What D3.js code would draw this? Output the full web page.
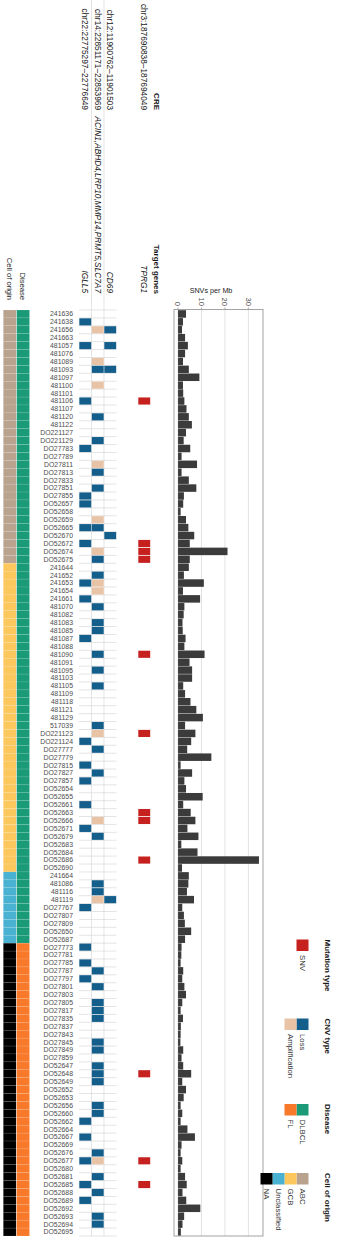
<!DOCTYPE html>
<html><head><meta charset="utf-8">
<script src="https://cdn.jsdelivr.net/npm/d3@7"></script>
<style>body{margin:0;background:#fff}svg{display:block;font-family:"Liberation Sans",Arial,sans-serif}</style>
</head><body><svg id="c" width="340" height="1258"></svg>
<script>
const samples = [
"241636","241638","241656","241663","481057","481076","481089","481093","481097","481100",
"481101","481106","481107","481120","481122","DO221127","DO221129","DO27783","DO27789","DO27811",
"DO27813","DO27833","DO27851","DO27855","DO52657","DO52658","DO52659","DO52665","DO52670","DO52672",
"DO52674","DO52675","241644","241652","241653","241654","241661","481070","481082","481083",
"481085","481087","481088","481090","481091","481095","481103","481105","481109","481118",
"481121","481129","517039","DO221123","DO221124","DO27777","DO27779","DO27815","DO27827","DO27857",
"DO52654","DO52655","DO52661","DO52663","DO52666","DO52671","DO52679","DO52683","DO52684","DO52686",
"DO52690","241664","481086","481116","481119","DO27767","DO27807","DO27809","DO52650","DO52687",
"DO27773","DO27781","DO27785","DO27787","DO27797","DO27801","DO27803","DO27805","DO27817","DO27835",
"DO27837","DO27843","DO27845","DO27849","DO27859","DO52647","DO52648","DO52649","DO52652","DO52653",
"DO52656","DO52660","DO52662","DO52664","DO52667","DO52669","DO52676","DO52677","DO52680","DO52681",
"DO52685","DO52688","DO52689","DO52692","DO52693","DO52694","DO52695"];

const cellOfOrigin = [
"ABC","ABC","ABC","ABC","ABC","ABC","ABC","ABC","ABC","ABC",
"ABC","ABC","ABC","ABC","ABC","ABC","ABC","ABC","ABC","ABC",
"ABC","ABC","ABC","ABC","ABC","ABC","ABC","ABC","ABC","ABC",
"ABC","ABC","GCB","GCB","GCB","GCB","GCB","GCB","GCB","GCB",
"GCB","GCB","GCB","GCB","GCB","GCB","GCB","GCB","GCB","GCB",
"GCB","GCB","GCB","GCB","GCB","GCB","GCB","GCB","GCB","GCB",
"GCB","GCB","GCB","GCB","GCB","GCB","GCB","GCB","GCB","GCB",
"GCB","Unclassified","Unclassified","Unclassified","Unclassified","Unclassified","Unclassified","Unclassified","Unclassified","Unclassified",
"NA","NA","NA","NA","NA","NA","NA","NA","NA","NA",
"NA","NA","NA","NA","NA","NA","NA","NA","NA","NA",
"NA","NA","NA","NA","NA","NA","NA","NA","NA","NA",
"NA","NA","NA","NA","NA","NA","NA"];

const disease = [
"DLBCL","DLBCL","DLBCL","DLBCL","DLBCL","DLBCL","DLBCL","DLBCL","DLBCL","DLBCL",
"DLBCL","DLBCL","DLBCL","DLBCL","DLBCL","DLBCL","DLBCL","DLBCL","DLBCL","DLBCL",
"DLBCL","DLBCL","DLBCL","DLBCL","DLBCL","DLBCL","DLBCL","DLBCL","DLBCL","DLBCL",
"DLBCL","DLBCL","DLBCL","DLBCL","DLBCL","DLBCL","DLBCL","DLBCL","DLBCL","DLBCL",
"DLBCL","DLBCL","DLBCL","DLBCL","DLBCL","DLBCL","DLBCL","DLBCL","DLBCL","DLBCL",
"DLBCL","DLBCL","DLBCL","DLBCL","DLBCL","DLBCL","DLBCL","DLBCL","DLBCL","DLBCL",
"DLBCL","DLBCL","DLBCL","DLBCL","DLBCL","DLBCL","DLBCL","DLBCL","DLBCL","DLBCL",
"DLBCL","DLBCL","DLBCL","DLBCL","DLBCL","DLBCL","DLBCL","DLBCL","DLBCL","DLBCL",
"FL","FL","FL","FL","FL","FL","FL","FL","FL","FL",
"FL","FL","FL","FL","FL","FL","FL","FL","FL","FL",
"FL","FL","FL","FL","FL","FL","FL","FL","FL","FL",
"FL","FL","FL","FL","FL","FL","FL"];

const snvPerMb = [
3.4,2.1,1.7,3.0,4.2,3.0,2.1,4.6,9.1,2.1,
2.2,2.7,3.6,4.6,5.9,3.4,2.4,5.2,1.5,8.1,
1.5,4.6,7.8,2.5,2.2,1.1,3.4,4.4,6.9,5.0,
21.1,5.0,4.6,2.5,11.0,2.1,9.4,2.7,2.4,1.9,
2.0,3.2,2.7,11.3,4.9,6.0,6.0,2.2,3.0,5.3,
7.8,10.6,3.0,7.4,5.6,3.9,14.2,1.1,6.0,2.7,
3.4,10.5,2.2,5.4,7.4,4.0,8.7,1.4,8.3,34.5,
1.7,4.6,4.4,3.8,6.8,1.8,2.5,2.9,5.6,3.0,
1.5,1.4,1.1,2.2,1.8,2.7,3.4,1.8,1.1,2.1,
1.2,1.1,1.0,2.2,1.5,2.2,5.6,1.8,3.4,2.4,
1.1,1.8,1.1,4.0,7.2,1.5,1.1,1.8,1.1,3.0,
3.7,1.9,3.5,9.5,2.6,1.9,1.2];

const cnvCres = ["chr22:22775297–22776649","chr14:22851171–22853969","chr12:11900762–11901503"];
const cnvGenes = ["IGLL5","ACIN1,ABHD4,LRP10,MMP14,PRMT5,SLC7A7","CD69"];
const snvCres = ["chr3:187690838–187694049"];
const snvGenes = ["TPRG1"];

const igll5Loss = ["241638","481057","481106","DO27783","DO27855","DO52657","DO52665","DO52672","241653","241661","481087","DO221124","DO27815","DO27857","DO52661","DO52671","DO27767","DO27773","DO27785","DO27797","DO52662","DO52667","DO52677","DO52685","DO52689"];
const acin1Amp = ["241656","481089","481100","DO27811","DO52659","DO52674","241653","241654","DO221123","DO52666","481119","DO52677"];
const acin1Loss = ["481093","481120","DO221129","DO27813","DO27851","DO52665","DO52675","241652","481070","481083","481085","481090","481095","481105","517039","DO27777","DO27827","DO52679","481086","481116","DO27787","DO27801","DO27805","DO27817","DO27835","DO27845","DO27849","DO52647","DO52648","DO52649","DO52656","DO52660","DO52676","DO52681","DO52688","DO52693","DO52694"];
const cd69Loss = ["241656","481057","481093","DO52670","481119"];
const tprg1Snv = ["481106","DO52672","DO52674","DO52675","481090","DO221123","DO52663","DO52666","DO52686","DO52648","DO52677","DO52685"];

const axisTicks = [0,10,20,30];
const originLevels = ["ABC","GCB","Unclassified","NA"];
const diseaseLevels = ["DLBCL","FL"];
const cnvLevels = ["Loss","Amplification"];
const mutLevels = ["SNV"];

const originColor = d3.scaleOrdinal().domain(originLevels).range(["#b9a38f","#fcc75c","#49b2d2","#000000"]);
const diseaseColor = d3.scaleOrdinal().domain(diseaseLevels).range(["#1b9a78","#f9792a"]);
const cnvColor = d3.scaleOrdinal().domain(cnvLevels).range(["#145e8c","#e9c3a5"]);
const mutColor = d3.scaleOrdinal().domain(mutLevels).range(["#c6201f"]);

const svg = d3.select("#c");
const y = d3.scaleBand().domain(samples).range([310, 1236]);
const bw = y.bandwidth();

function vtext(x, yy, txt, anchor, o = {}) {
  const t = svg.append("text")
    .attr("transform", `translate(${x},${yy}) rotate(90)`)
    .attr("text-anchor", anchor).attr("dy", "0.35em")
    .attr("font-size", o.size || 8).attr("fill", o.fill || "#1a1a1a")
    .text(txt);
  if (o.bold) t.attr("font-weight", "bold");
  if (o.italic) t.attr("font-style", "italic");
  return t;
}

// annotation columns
const annX = d3.scaleBand().domain(["origin","disease"]).range([3.3, 29.5]).paddingInner(0.04);
svg.append("g").selectAll("rect").data(samples).join("rect")
  .attr("x", annX("origin")).attr("width", annX.bandwidth())
  .attr("y", d => y(d)).attr("height", bw)
  .attr("fill", (d,i) => originColor(cellOfOrigin[i]))
  .attr("stroke", "rgba(255,255,255,0.25)").attr("stroke-width", 0.4);
svg.append("g").selectAll("rect").data(samples).join("rect")
  .attr("x", annX("disease")).attr("width", annX.bandwidth())
  .attr("y", d => y(d)).attr("height", bw)
  .attr("fill", (d,i) => diseaseColor(disease[i]))
  .attr("stroke", "rgba(255,255,255,0.25)").attr("stroke-width", 0.4);
vtext(annX("origin") + annX.bandwidth()/2, 300, "Cell of origin", "end", {size: 7.6});
vtext(annX("disease") + annX.bandwidth()/2, 300, "Disease", "end", {size: 7.6});

// sample labels
svg.append("g").selectAll("text").data(samples).join("text")
  .attr("x", 73).attr("y", d => y(d) + bw/2).attr("dy", "0.35em")
  .attr("text-anchor", "end").attr("font-size", 6.9).attr("fill", "#4d4d4d")
  .text(d => d);

// CNV columns
const cx = d3.scaleBand().domain(cnvGenes).range([79, 116.5]);
const cw = cx.bandwidth();
const grid = svg.append("g").attr("stroke", "#d9d9d9").attr("stroke-width", 0.7);
grid.selectAll("line.h").data(samples.concat(["__end"])).join("line")
  .attr("x1", 79).attr("x2", 116.5)
  .attr("y1", (d,i) => 310 + i*bw).attr("y2", (d,i) => 310 + i*bw);
grid.selectAll("line.v").data(cnvGenes.slice(1)).join("line")
  .attr("x1", d => cx(d)).attr("x2", d => cx(d)).attr("y1", 0).attr("y2", 1236);

const cnvCells = [];
igll5Loss.forEach(s => cnvCells.push({s, g: cnvGenes[0], t: "Loss"}));
acin1Amp.forEach(s => cnvCells.push({s, g: cnvGenes[1], t: "Amplification"}));
acin1Loss.forEach(s => cnvCells.push({s, g: cnvGenes[1], t: "Loss"}));
cd69Loss.forEach(s => cnvCells.push({s, g: cnvGenes[2], t: "Loss"}));
svg.append("g").selectAll("rect").data(cnvCells).join("rect")
  .attr("x", d => cx(d.g) + 0.3).attr("width", cw - 0.6)
  .attr("y", d => y(d.s) + 0.4).attr("height", bw - 0.8)
  .attr("fill", d => cnvColor(d.t));

// SNV column
const sx = d3.scaleBand().domain(snvGenes).range([138, 150.5]);
svg.append("g").selectAll("rect").data(tprg1Snv).join("rect")
  .attr("x", sx(snvGenes[0]) + 0.3).attr("width", sx.bandwidth() - 0.6)
  .attr("y", d => y(d) + 0.4).attr("height", bw - 0.8)
  .attr("fill", mutColor("SNV"));

// column labels
cnvGenes.forEach((g,i) => {
  vtext(cx(g) + cw/2, 110, cnvCres[i], "end", {size: 8.3});
  vtext(cx(g) + cw/2, 293, g, "end", {size: 8.3, italic: true});
});
snvGenes.forEach((g,i) => {
  vtext(sx(g) + sx.bandwidth()/2, 110, snvCres[i], "end", {size: 8.3});
  vtext(sx(g) + sx.bandwidth()/2, 293, g, "end", {size: 8.3, italic: true});
});
vtext(157, 110, "CRE", "end", {size: 8, bold: true});
vtext(157, 294, "Target genes", "end", {size: 8, bold: true});

// bar chart
const maxV = d3.max(snvPerMb);
const x = d3.scaleLinear().domain([-0.05*maxV, 1.05*maxV]).range([174, 263]);
svg.append("rect").attr("x", 174).attr("y", 309.5).attr("width", 89).attr("height", 926.5)
  .attr("fill", "#fff");
svg.append("g").selectAll("line").data(axisTicks).join("line")
  .attr("x1", d => x(d)).attr("x2", d => x(d)).attr("y1", 309.5).attr("y2", 1236)
  .attr("stroke", "#dcdcdc").attr("stroke-width", 0.8);
svg.append("g").selectAll("rect").data(samples).join("rect")
  .attr("x", x(0)).attr("y", d => y(d) + 0.2).attr("height", bw - 0.4)
  .attr("width", (d,i) => x(snvPerMb[i]) - x(0))
  .attr("fill", "#3b3b3b");
svg.append("rect").attr("x", 174).attr("y", 309.5).attr("width", 89).attr("height", 926.5)
  .attr("fill", "none").attr("stroke", "#9a9a9a").attr("stroke-width", 0.9);
svg.append("g").selectAll("line").data(axisTicks).join("line")
  .attr("x1", d => x(d)).attr("x2", d => x(d)).attr("y1", 307.5).attr("y2", 309.5)
  .attr("stroke", "#9a9a9a").attr("stroke-width", 0.8);
axisTicks.forEach(v => vtext(x(v), 306, String(v), "end", {size: 7.6, fill: "#4d4d4d"}));
svg.append("text").attr("x", 211).attr("y", 293).attr("text-anchor", "middle")
  .attr("font-size", 7.2).attr("fill", "#1a1a1a").text("SNVs per Mb");

// legends
function legend(title, levels, colorScale, top) {
  vtext(328, top, title, "start", {size: 8, bold: true});
  const lx = d3.scaleBand().domain(levels).range([320.5, 320.5 - 12*levels.length]);
  levels.forEach(l => {
    svg.append("rect").attr("x", lx(l) - 12).attr("y", top).attr("width", 12).attr("height", 11.5)
      .attr("fill", colorScale(l));
    vtext(lx(l) - 6, top + 15.5, l, "start", {size: 7.8, fill: "#333"});
  });
}
legend("Mutation type", mutLevels, mutColor, 939.5);
legend("CNV type", cnvLevels, cnvColor, 1018.5);
legend("Disease", diseaseLevels, diseaseColor, 1104);
legend("Cell of origin", originLevels, originColor, 1173);
</script></body></html>
